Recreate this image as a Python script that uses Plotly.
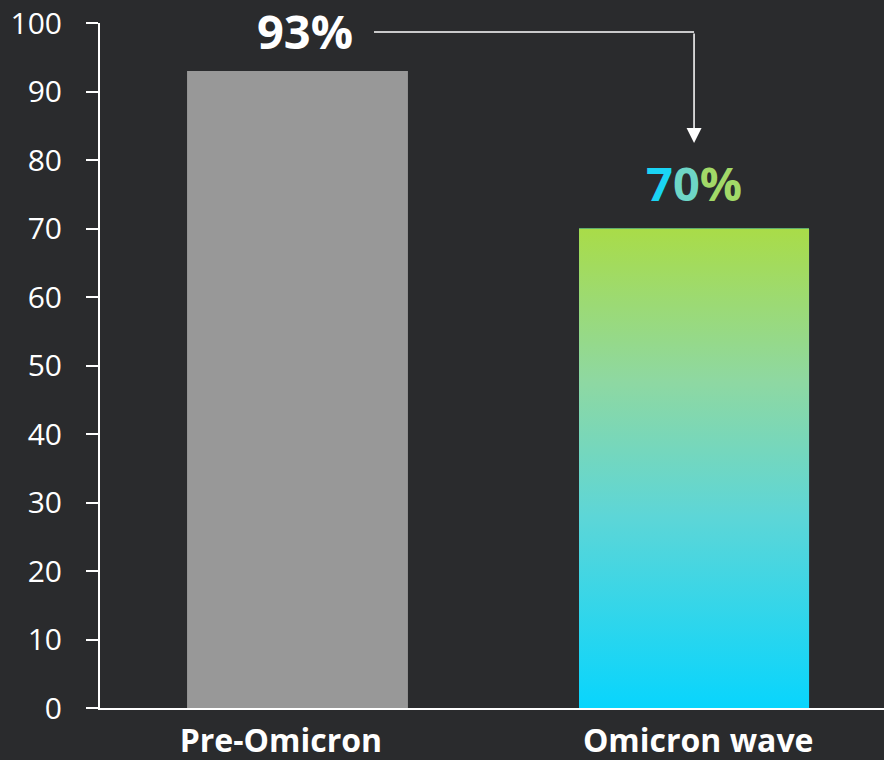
import plotly.graph_objects as go

# Share of protection by period
categories = ["Pre-Omicron", "Omicron wave"]
values = [93, 70]
value_labels = ["93%", "70%"]

BG = "#2a2b2d"
GRAY = "#989898"
BAR_WIDTHS = [0.557, 0.58]
GRADIENT = [[0.0, "#08d5fd"], [0.4, "#5dd6d7"], [0.68, "#8ed8a2"], [1.0, "#a9dc48"]]
FONT = "Open Sans"
NBSP = "\u00a0"

x_pos = list(range(len(categories)))

fig = go.Figure()

# Plain bars
fig.add_trace(go.Bar(
    x=x_pos, y=values, width=BAR_WIDTHS,
    marker=dict(color=[GRAY, "#08d5fd"], line=dict(width=0)),
    hoverinfo="skip", showlegend=False,
))

# Vertical colour gradient over the second bar
gi = 1
half = BAR_WIDTHS[gi] / 2
fig.add_trace(go.Scatter(
    x=[x_pos[gi] - half, x_pos[gi] + half, x_pos[gi] + half, x_pos[gi] - half, x_pos[gi] - half],
    y=[0, 0, values[gi], values[gi], 0],
    mode="lines", line=dict(width=0), fill="toself",
    fillgradient=dict(type="vertical", colorscale=GRADIENT),
    hoverinfo="skip", showlegend=False,
))

# Value labels
fig.add_annotation(
    x=x_pos[0], y=values[0], xref="x", yref="y",
    text=f"<b>{value_labels[0]}</b>", showarrow=False,
    font=dict(family=FONT, size=47, color="white"),
    xshift=8, yshift=40, yanchor="middle",
)
fig.add_annotation(
    x=x_pos[1], y=values[1], xref="x", yref="y",
    text=("<b><span style='color:#1ad4f4'>7</span>"
          "<span style='color:#6ed6c6'>0</span>"
          "<span style='color:#a2d968'>%</span></b>"),
    showarrow=False,
    font=dict(family=FONT, size=47, color="white"),
    xshift=0, yshift=46, yanchor="middle",
)

# Connector from the first label down to the second
connector_y = 98.7
arrow_tip_y = 82.5
fig.add_shape(
    type="line", xref="x", yref="y",
    x0=x_pos[0] + 0.193, x1=x_pos[1], y0=connector_y, y1=connector_y,
    line=dict(color="white", width=1.5),
)
fig.add_annotation(
    x=x_pos[1], y=arrow_tip_y, ax=x_pos[1], ay=connector_y,
    xref="x", yref="y", axref="x", ayref="y",
    text="", showarrow=True, arrowhead=2, arrowsize=2, arrowwidth=1.5,
    arrowcolor="white",
)

fig.update_layout(
    width=884, height=760,
    paper_bgcolor=BG, plot_bgcolor=BG,
    margin=dict(l=100, r=0, t=23, b=52),
    font=dict(family=FONT, color="white"),
    bargap=0.4,
)
# category labels sit a little off the bar centres
tick_text = [f"<b>{categories[0]}{NBSP * 4}</b>", f"<b>{NBSP}{categories[1]}</b>"]
fig.update_xaxes(
    range=[-0.498, 1.479],
    tickvals=x_pos,
    ticktext=tick_text,
    tickfont=dict(family=FONT, size=32, color="white"),
    showline=True, linecolor="white", linewidth=2,
    showgrid=False, zeroline=False, ticks="",
    ticklabelstandoff=4,
)
fig.update_yaxes(
    range=[0, 100], dtick=10,
    tickfont=dict(family=FONT, size=30, color="white"),
    showline=True, linecolor="white", linewidth=2,
    ticks="outside", ticklen=12, tickwidth=2, tickcolor="white",
    showgrid=False, zeroline=False,
    ticklabelstandoff=18,
)

fig.write_html("out.html")
